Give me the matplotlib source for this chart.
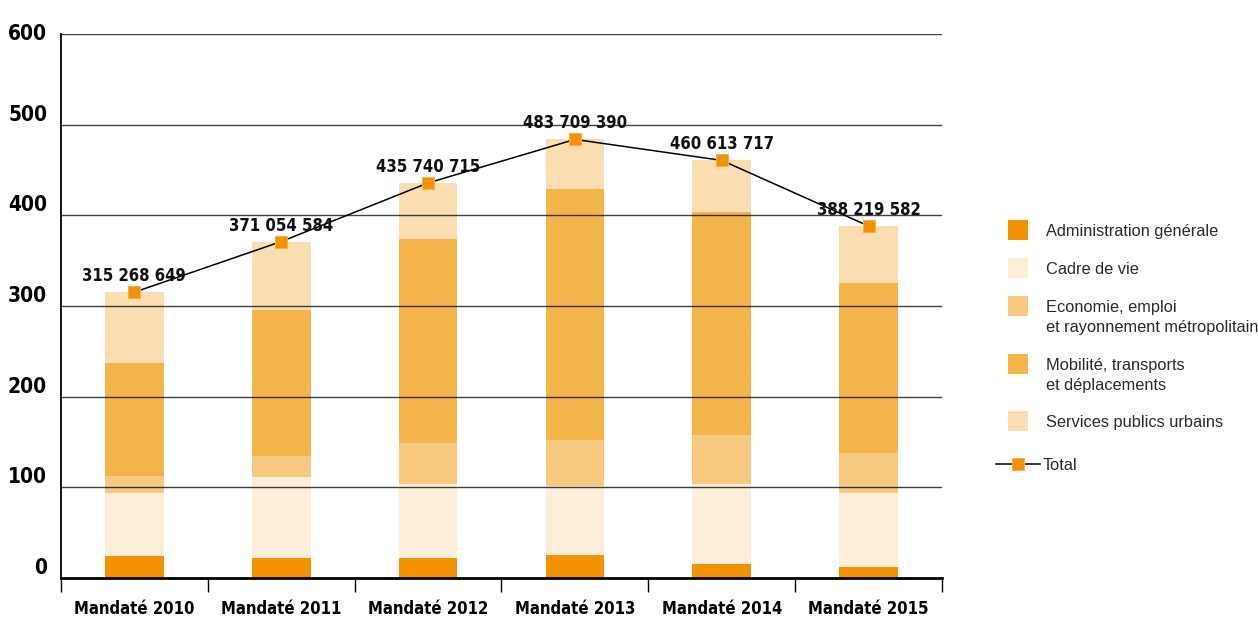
import matplotlib
matplotlib.use("Agg")
import matplotlib.pyplot as plt
from matplotlib import font_manager as fm
from matplotlib.patches import Rectangle
from matplotlib.lines import Line2D
import numpy as np

# montants mandatés par politique publique (millions d'euros)
annees = ["Mandaté 2010", "Mandaté 2011", "Mandaté 2012",
          "Mandaté 2013", "Mandaté 2014", "Mandaté 2015"]
admin = [24.3, 22.4, 22.4, 25.4, 15.4, 12.5]
cadre = [69.8, 89.0, 80.9, 76.1, 88.6, 80.9]
economie = [18.1, 22.8, 46.0, 51.1, 53.4, 44.5]
mobilite = [125.3, 161.4, 224.6, 276.4, 246.6, 187.5]
services = [77.8, 75.5, 61.8, 54.7, 56.6, 62.8]
total = [315268649, 371054584, 435740715, 483709390, 460613717, 388219582]

series = [admin, cadre, economie, mobilite, services]
noms = ["Administration générale", "Cadre de vie",
        "Economie, emploi\net rayonnement métropolitain",
        "Mobilité, transports\net déplacements", "Services publics urbains"]
couleurs = ["#F39200", "#FDEEDA", "#F8C981", "#F4B44C", "#FADEB1"]

# police étroite si disponible, sinon DejaVu Sans plus petite
fp = fm.FontProperties(family="DejaVu Sans", stretch="condensed", weight="bold")
condensed = "Condensed" in fm.findfont(fp, fallback_to_default=True)
if condensed:
    titre = dict(family="DejaVu Sans", fontstretch="condensed", fontweight="bold")
    sz_y, sz_x, sz_v = 15, 12, 12
else:
    titre = dict(family="DejaVu Sans", fontweight="bold")
    sz_y, sz_x, sz_v = 12.5, 10.5, 10.5

fig = plt.figure(figsize=(12.58, 6.17), dpi=100)
ax = fig.add_axes([61 / 1258, 39 / 617, 881 / 1258, 544 / 617])

x = np.arange(len(annees))
bas = np.zeros(len(annees))
for vals, c in zip(series, couleurs):
    ax.bar(x, vals, width=0.4, bottom=bas, color=c, linewidth=0, zorder=1)
    bas += np.array(vals)

# grille par-dessus les barres
for v in range(100, 700, 100):
    ax.axhline(v, color="black", alpha=0.75, linewidth=1, zorder=2)

tot_m = np.array(total) / 1e6
ax.plot(x, tot_m, color="black", linewidth=1.1, zorder=3,
        marker="s", markersize=9, markerfacecolor="#F39200",
        markeredgecolor="#F7B04A", markeredgewidth=0.8)

for xi, t in zip(x, total):
    txt = f"{t:,}".replace(",", " ")
    ax.annotate(txt, (xi, t / 1e6), xytext=(0, 5), textcoords="offset points",
                ha="center", va="bottom", fontsize=sz_v, color="#111111",
                zorder=4, **titre)

ax.set_xlim(-0.5, len(annees) - 0.5)
ax.set_ylim(0, 600)
ax.set_yticks(range(0, 700, 100))
ax.set_yticklabels([str(v) for v in range(0, 700, 100)], fontsize=sz_y,
                   va="bottom", **titre)
ax.get_yticklabels()[-1].set_va("center")
ax.tick_params(axis="y", length=0, pad=10)

ax.set_xticks(x)
ax.set_xticklabels(annees, fontsize=sz_x, **titre)
ax.set_xticks(np.arange(-0.5, len(annees)), minor=True)
ax.tick_params(axis="x", which="major", length=0, pad=16)
ax.tick_params(axis="x", which="minor", length=10, width=1, direction="out")

for s in ["top", "right"]:
    ax.spines[s].set_visible(False)
ax.spines["bottom"].set_linewidth(2)
ax.spines["left"].set_linewidth(1.3)

# légende
W, H = 1258, 617
leg_y = [230, 268, 306, 364, 421]
for y, c, n in zip(leg_y, couleurs, noms):
    fig.patches.append(Rectangle((1008 / W, 1 - (y + 10) / H), 20 / W, 20 / H,
                                 transform=fig.transFigure, color=c, linewidth=0))
    fig.text(1046 / W, 1 - (y - 6) / H, n, ha="left", va="top", fontsize=11.8,
             family="Liberation Sans", color="#2a2a2a", linespacing=1.4)

fig.lines.append(Line2D([996 / W, 1040 / W], [1 - 464 / H] * 2,
                        transform=fig.transFigure, color="black", linewidth=1.1))
fig.lines.append(Line2D([1018 / W], [1 - 464 / H], transform=fig.transFigure,
                        marker="s", markersize=9, markerfacecolor="#F39200",
                        markeredgecolor="#F7B04A", markeredgewidth=0.8))
fig.text(1043 / W, 1 - 465 / H, "Total", ha="left", va="center", fontsize=11.8,
         family="Liberation Sans", color="#2a2a2a")

fig.savefig("out.png", dpi=100)
